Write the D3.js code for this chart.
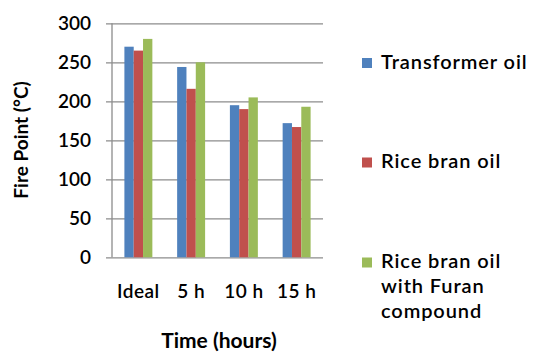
<!DOCTYPE html>
<html>
<head>
<meta charset="utf-8">
<script src="https://cdn.jsdelivr.net/npm/d3@7"></script>
<style>
  html, body { margin: 0; padding: 0; background: #fff; }
  svg { display: block; }
  text { font-family: Lato, "Open Sans", sans-serif; fill: #000; }
</style>
</head>
<body>
<svg id="chart" width="536" height="354"></svg>
<script>
const categories = ["Ideal", "5 h", "10 h", "15 h"];
const seriesNames = ["Transformer oil", "Rice bran oil", "Rice bran oil with Furan compound"];
const transformerOil = [270, 244, 195, 172];
const riceBranOil = [265, 216, 190, 167];
const riceBranFuran = [280, 250, 205, 193];
const yTicks = [0, 50, 100, 150, 200, 250, 300];
const colors = ["#4F81BD", "#C0504D", "#9BBB59"];

const seriesValues = [transformerOil, riceBranOil, riceBranFuran];
const rows = categories.map((c, i) => ({ cat: c, vals: seriesValues.map(s => s[i]) }));

const svg = d3.select("#chart");
const plot = { left: 112, right: 323, top: 23.3, bottom: 257.3 };

const x0 = d3.scaleBand().domain(categories).range([plot.left, plot.right])
  .paddingInner(0.47).paddingOuter(0.235);
const x1 = d3.scaleBand().domain(d3.range(seriesNames.length)).range([0, x0.bandwidth()]);
const y = d3.scaleLinear().domain([0, 300]).range([plot.bottom, plot.top]);

// gridlines + y axis
const yAxis = d3.axisLeft(y).tickValues(yTicks).tickSize(0).tickPadding(21);
const gy = svg.append("g").attr("transform", `translate(${plot.left},0)`).call(yAxis);
gy.select(".domain").remove();
gy.selectAll(".tick text").attr("font-size", 19).attr("font-weight", 600)
  .attr("fill", "#111").attr("font-family", "Lato, sans-serif");
gy.selectAll(".tick").append("line")
  .attr("x1", -6).attr("x2", plot.right - plot.left)
  .attr("stroke", "#8c8c8c").attr("stroke-width", 1.3);

// bars
const g = svg.append("g");
g.selectAll("g.grp").data(rows).join("g").attr("class", "grp")
  .attr("transform", d => `translate(${x0(d.cat)},0)`)
  .selectAll("rect").data(d => d.vals.map((v, i) => ({ v, i })))
  .join("rect")
  .attr("x", d => x1(d.i)).attr("width", x1.bandwidth())
  .attr("y", d => y(d.v)).attr("height", d => y(0) - y(d.v))
  .attr("fill", d => colors[d.i]);

// y axis line
svg.append("line").attr("x1", plot.left).attr("x2", plot.left)
  .attr("y1", plot.top).attr("y2", plot.bottom)
  .attr("stroke", "#8c8c8c").attr("stroke-width", 1.3);

// x axis
const xAxis = d3.axisBottom(x0).tickSize(0).tickPadding(27);
const gx = svg.append("g").attr("transform", `translate(0,${plot.bottom})`).call(xAxis);
gx.select(".domain").remove();
gx.selectAll(".tick text").attr("font-size", 19).attr("font-weight", 600)
  .attr("letter-spacing", 0.5)
  .attr("fill", "#111").attr("font-family", "Lato, sans-serif");

// axis titles
svg.append("text").attr("transform", "translate(28,140) rotate(-90)")
  .attr("text-anchor", "middle").attr("font-size", 19).attr("font-weight", "bold")
  .text("Fire Point (°C)");
svg.append("text").attr("x", 219).attr("y", 348)
  .attr("text-anchor", "middle").attr("font-size", 21).attr("font-weight", "bold")
  .text("Time (hours)");

// legend
const legendLines = [["Transformer oil"], ["Rice bran oil"], ["Rice bran oil", "with Furan", "compound"]];
const legendY = [68.5, 168, 268];
const lg = svg.append("g");
legendLines.forEach((lines, i) => {
  lg.append("rect").attr("x", 362).attr("y", legendY[i] - 10.5).attr("width", 10).attr("height", 10)
    .attr("fill", colors[i]);
  const t = lg.append("text").attr("x", 381).attr("y", legendY[i]).attr("font-size", 20)
    .attr("font-weight", 600).attr("letter-spacing", 0.9).attr("fill", "#111");
  lines.forEach((ln, j) => {
    t.append("tspan").attr("x", 381).attr("dy", j === 0 ? 0 : 25).text(ln);
  });
});
</script>
</body>
</html>
